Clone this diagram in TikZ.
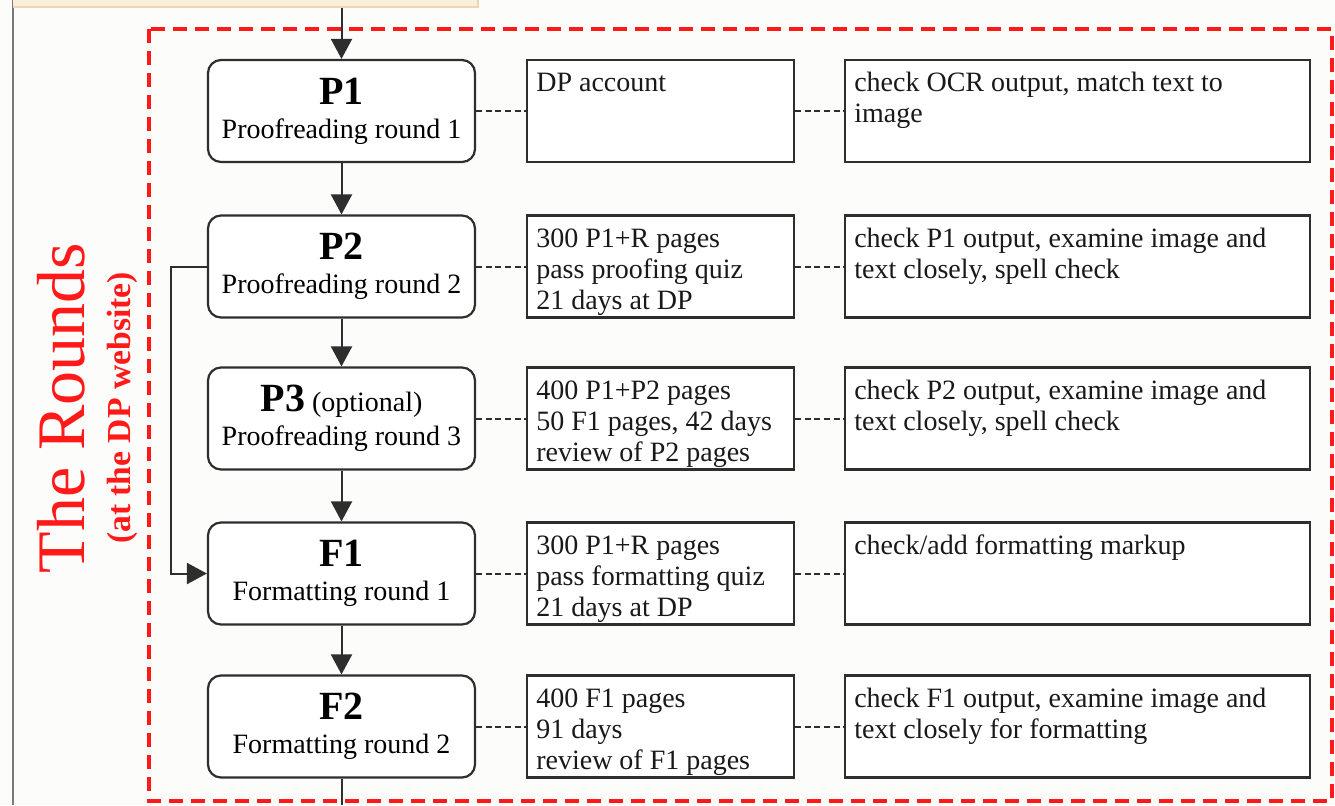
\documentclass[tikz,border=0pt]{standalone}
\usepackage{fontspec}
\setmainfont{Liberation Serif}
\usetikzlibrary{arrows.meta,calc}
\definecolor{bgc}{HTML}{FCFCFA}
\definecolor{beige}{HTML}{FAEEDC}
\definecolor{beigeline}{HTML}{F0D6B0}
\definecolor{edgec}{HTML}{2E2E2E}
\definecolor{dpred}{HTML}{FF1A1A}
\definecolor{sidegray}{HTML}{7A7A7A}
\newcommand\rtitle[1]{{\fontsize{20}{17}\selectfont\bfseries #1}}
\begin{document}
\begin{tikzpicture}[x=0.5pt,y=-0.5pt,
  roundbox/.style={draw=edgec, line width=1.1pt, fill=white, rounded corners=6.5pt,
    minimum width=133.5pt, minimum height=51pt, inner sep=0pt, align=center,
    font=\fontsize{14}{17}\selectfont},
  plainbox/.style={draw=edgec, line width=1.1pt, fill=white, inner sep=0pt, minimum height=51pt},
  midbox/.style={plainbox, minimum width=133.5pt},
  rightbox/.style={plainbox, minimum width=232.5pt},
  boxtext/.style={inner sep=0pt, anchor=base west, font=\fontsize{14}{15.5}\selectfont, text=black!90},
  flow/.style={draw=edgec, line width=1pt, -{Triangle[length=10pt,width=10.5pt]}},
  plainline/.style={draw=edgec, line width=1pt},
  link/.style={draw=edgec, line width=1pt, dash pattern=on 3pt off 1.8pt},
  frame/.style={draw=dpred, line width=2pt, dash pattern=on 7pt off 4pt}
]
\useasboundingbox (0,0) rectangle (1335,805);
\fill[bgc] (0,0) rectangle (1335,805);

% left gray rule
\draw[sidegray, line width=1pt] (13,0) -- (13,805);

% red dashed frame
\draw[frame] (149,29) rectangle (1332,801);

% side titles
\node[rotate=90, text=dpred, font=\fontsize{34}{34}\selectfont, inner sep=0pt] (rounds) at (61,408) {The Rounds};
\node[rotate=90, text=dpred, font=\fontsize{16.8}{16.8}\selectfont\bfseries, inner sep=0pt] (atdp) at (122,408) {(at the DP website)};

% round boxes
\node[roundbox] (p1) at (341.5,111)   {\rtitle{P1}\\Proofreading round 1};
\node[roundbox] (p2) at (341.5,266.5) {\rtitle{P2}\\Proofreading round 2};
\node[roundbox] (p3) at (341.5,418.5) {\rtitle{P3} (optional)\\Proofreading round 3};
\node[roundbox] (f1) at (341.5,573.5) {\rtitle{F1}\\Formatting round 1};
\node[roundbox] (f2) at (341.5,726.5) {\rtitle{F2}\\Formatting round 2};

% middle boxes
\node[midbox] (m1) at (660.5,111)   {};
\node[midbox] (m2) at (660.5,266.5) {};
\node[midbox] (m3) at (660.5,418.5) {};
\node[midbox] (m4) at (660.5,573.5) {};
\node[midbox] (m5) at (660.5,726.5) {};

% right boxes
\node[rightbox] (r1) at (1077.5,111)   {};
\node[rightbox] (r2) at (1077.5,266.5) {};
\node[rightbox] (r3) at (1077.5,418.5) {};
\node[rightbox] (r4) at (1077.5,573.5) {};
\node[rightbox] (r5) at (1077.5,726.5) {};

% middle texts
\node[boxtext] (m1t) at ([xshift=5pt,yshift=-16.5pt]m1.north west) {\parbox[t]{128pt}{\raggedright DP account}};
\node[boxtext] (m2t) at ([xshift=5pt,yshift=-16.5pt]m2.north west) {\parbox[t]{128pt}{\raggedright 300 P1+R pages\\pass proofing quiz\\21 days at DP}};
\node[boxtext] (m3t) at ([xshift=5pt,yshift=-16.5pt]m3.north west) {\parbox[t]{128pt}{\raggedright 400 P1+P2 pages\\50 F1 pages, 42 days\\review of P2 pages}};
\node[boxtext] (m4t) at ([xshift=5pt,yshift=-16.5pt]m4.north west) {\parbox[t]{128pt}{\raggedright 300 P1+R pages\\pass formatting quiz\\21 days at DP}};
\node[boxtext] (m5t) at ([xshift=5pt,yshift=-16.5pt]m5.north west) {\parbox[t]{128pt}{\raggedright 400 F1 pages\\91 days\\review of F1 pages}};

% right texts
\node[boxtext] (r1t) at ([xshift=5pt,yshift=-16.5pt]r1.north west) {\parbox[t]{226pt}{\raggedright check OCR output, match text to\\image}};
\node[boxtext] (r2t) at ([xshift=5pt,yshift=-16.5pt]r2.north west) {\parbox[t]{226pt}{\raggedright check P1 output, examine image and\\text closely, spell check}};
\node[boxtext] (r3t) at ([xshift=5pt,yshift=-16.5pt]r3.north west) {\parbox[t]{226pt}{\raggedright check P2 output, examine image and\\text closely, spell check}};
\node[boxtext] (r4t) at ([xshift=5pt,yshift=-16.5pt]r4.north west) {\parbox[t]{226pt}{\raggedright check/add formatting markup}};
\node[boxtext] (r5t) at ([xshift=5pt,yshift=-16.5pt]r5.north west) {\parbox[t]{226pt}{\raggedright check F1 output, examine image and\\text closely for formatting}};

% flow arrows
\coordinate (topin) at (341.5,0);
\coordinate (botout) at (341.5,805);
\draw[flow] (topin) -- (p1.north);
\draw[flow] (p1) -- (p2);
\draw[flow] (p2) -- (p3);
\draw[flow] (p3) -- (f1);
\draw[flow] (f1) -- (f2);
\draw[plainline] (f2) -- (botout);
\draw[flow] (p2.west) -- ++(-36,0) |- (f1.west);

% dashed links
\foreach \a/\b/\c in {p1/m1/r1, p2/m2/r2, p3/m3/r3, f1/m4/r4, f2/m5/r5}{
  \draw[link] (\a.east) -- (\b.west);
  \draw[link] (\b.east) -- (\c.west);
}

% top beige strip
\fill[beige] (13,0) rectangle (478,7);
\draw[beigeline, line width=1pt] (13,7) -- (478,7) -- (478,0);
\end{tikzpicture}
\end{document}
